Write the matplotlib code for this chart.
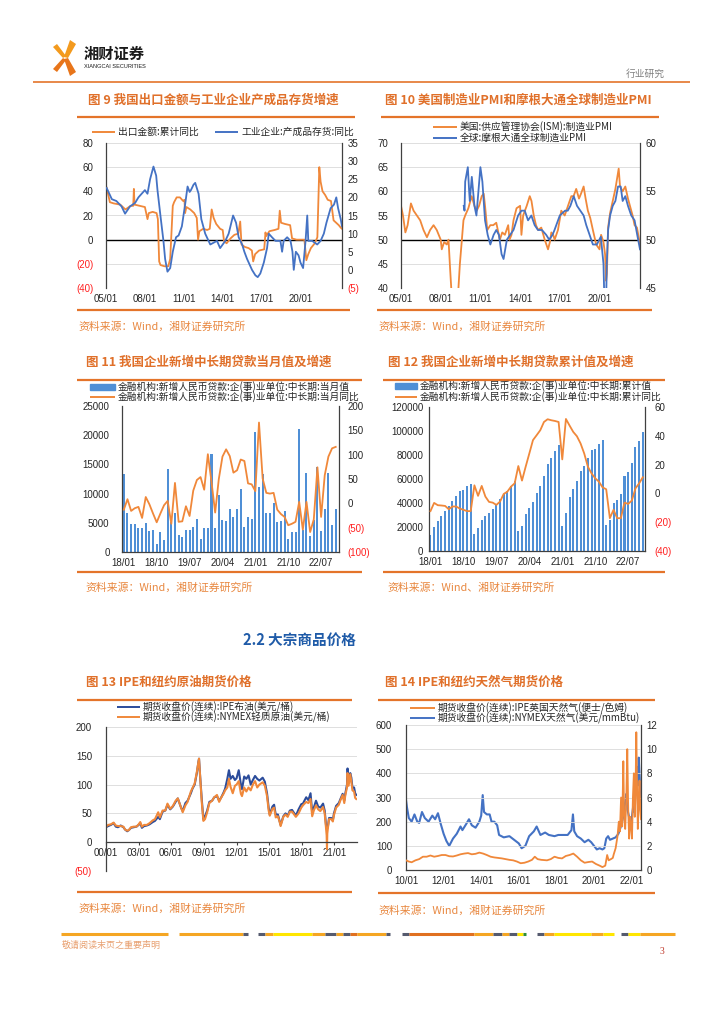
import matplotlib
matplotlib.use('Agg')
import matplotlib.pyplot as plt
from matplotlib.lines import Line2D
from matplotlib.patches import Polygon, Rectangle
import pandas as pd

plt.rcParams['font.family'] = ['Noto Sans CJK SC', 'DejaVu Sans']
plt.rcParams['axes.unicode_minus'] = False
NUM = ['Liberation Sans', 'DejaVu Sans']

W, H = 724, 1024
ORANGE = '#F0883A'
BLUE = '#4472C4'
NAVY = '#2B4C9B'
BAR = '#4F8FD6'
RULE = '#E4742A'
TITLE = '#E0702A'
RED = '#FF2020'
TXT = '#262626'
GRID = '#D9D9D9'

# ---------------- data ----------------
# fig 9: export amount cumulative yoy (left) / finished goods inventory yoy (right)
export_yoy = [(2005.05, 43), (2005.3, 31), (2005.6, 30), (2006.1, 29), (2006.5, 25), (2006.9, 28),
              (2007.1, 28), (2007.15, 42), (2007.2, 29), (2007.6, 28), (2008.0, 27), (2008.2, 17),
              (2008.3, 22), (2008.6, 23), (2008.9, 22), (2009.0, 17), (2009.1, -18), (2009.2, -21),
              (2009.5, -22), (2009.8, -22), (2009.95, -16), (2010.15, 28), (2010.25, 31), (2010.45, 35),
              (2010.7, 35), (2010.95, 32), (2011.05, 33), (2011.1, 22), (2011.2, 27), (2011.5, 25),
              (2011.8, 22), (2012.0, 18), (2012.1, 0), (2012.2, 7), (2012.5, 9), (2012.8, 8),
              (2013.0, 9), (2013.15, 25), (2013.3, 18), (2013.5, 13), (2013.8, 9), (2014.0, 8),
              (2014.1, -1), (2014.3, -3), (2014.6, 1), (2014.9, 4), (2015.2, 5), (2015.35, 15),
              (2015.45, -4), (2015.7, -6), (2016.0, -7), (2016.25, -9), (2016.35, -18), (2016.5, -12),
              (2016.8, -9), (2017.2, -8), (2017.3, 6), (2017.35, 3), (2017.6, 7), (2018.0, 8),
              (2018.3, 9), (2018.4, 24), (2018.5, 14), (2018.8, 13), (2019.2, 12), (2019.35, 1),
              (2019.7, 0), (2020.0, 0), (2020.3, 0), (2020.45, -17), (2020.6, -12), (2020.8, -7),
              (2021.1, -3), (2021.3, 2), (2021.45, 60), (2021.55, 48), (2021.7, 40), (2021.9, 37),
              (2022.1, 33), (2022.35, 32), (2022.55, 16), (2022.75, 14), (2022.95, 12), (2023.1, 10),
              (2023.2, 9)]
inventory_yoy = [(2005.05, 22.6), (2005.45, 19.5), (2005.8, 19), (2006.2, 17.5), (2006.47, 15.5),
                 (2006.85, 17.5), (2007.25, 18.5), (2007.5, 20), (2007.75, 21), (2008.0, 22),
                 (2008.2, 21), (2008.4, 25), (2008.66, 28.5), (2008.87, 26), (2008.97, 22),
                 (2009.23, 14), (2009.43, 8), (2009.56, 3), (2009.74, -0.5), (2009.95, 0.5),
                 (2010.15, 5), (2010.4, 9), (2010.6, 9.5), (2010.85, 12), (2011.1, 18),
                 (2011.29, 23), (2011.45, 21.5), (2011.55, 22), (2011.75, 23.5), (2011.88, 24),
                 (2012.14, 21), (2012.35, 14), (2012.65, 10), (2013.04, 7), (2013.3, 7.5),
                 (2013.56, 8), (2013.8, 6), (2014.2, 8), (2014.46, 10), (2014.8, 15),
                 (2015.03, 13), (2015.23, 9), (2015.5, 7), (2015.67, 5), (2015.88, 3),
                 (2016.26, 0), (2016.52, -1.5), (2016.7, -2), (2016.9, -1), (2017.17, 2),
                 (2017.42, 6), (2017.55, 10), (2017.8, 9), (2018.07, 8), (2018.45, 8),
                 (2018.58, 5), (2018.7, 8), (2018.97, 9), (2019.23, 8), (2019.38, 5),
                 (2019.48, 0), (2019.64, 5), (2019.85, 4), (2020.0, 2), (2020.2, 0.5),
                 (2020.39, 8), (2020.52, 15), (2020.6, 8), (2020.9, 8), (2021.29, 7),
                 (2021.55, 8), (2021.8, 10), (2022.0, 13), (2022.32, 17), (2022.58, 18),
                 (2022.76, 20), (2022.9, 17), (2023.1, 14), (2023.2, 12)]
years_9 = [2005, 2008, 2011, 2014, 2017, 2020]

# fig 10: ISM manufacturing PMI (left) / JPM global manufacturing PMI (right)
ism_pmi = [(2005.0, 57), (2005.15, 55), (2005.33, 51.5), (2005.5, 53), (2005.75, 57.5), (2005.95, 56),
           (2006.2, 55), (2006.45, 54), (2006.7, 52), (2006.96, 50.5), (2007.2, 52), (2007.46, 53),
           (2007.7, 52), (2008.0, 50), (2008.08, 48), (2008.26, 49.5), (2008.46, 49), (2008.59, 50),
           (2008.71, 44), (2008.84, 38), (2008.95, 34), (2009.15, 35), (2009.34, 40), (2009.45, 45),
           (2009.6, 50), (2009.72, 54), (2009.85, 55), (2010.09, 56.5), (2010.34, 59), (2010.55, 57),
           (2010.72, 56), (2010.9, 57), (2011.1, 59), (2011.25, 59.5), (2011.35, 57), (2011.52, 52),
           (2011.75, 53), (2011.97, 53), (2012.2, 53.5), (2012.47, 50), (2012.65, 51.5), (2012.85, 51),
           (2013.1, 53), (2013.2, 50), (2013.35, 51), (2013.5, 54), (2013.73, 56.5), (2014.0, 57),
           (2014.1, 51), (2014.23, 55), (2014.5, 57), (2014.73, 59), (2014.86, 58), (2015.03, 55),
           (2015.2, 53), (2015.36, 52), (2015.6, 52.5), (2015.86, 50), (2016.11, 48), (2016.25, 49.5),
           (2016.36, 51.5), (2016.5, 51), (2016.61, 50), (2016.86, 52), (2017.11, 56), (2017.37, 55),
           (2017.62, 57), (2017.87, 59), (2018.04, 59), (2018.24, 60.5), (2018.45, 58.5), (2018.6, 59.5),
           (2018.8, 61), (2018.95, 58.5), (2019.12, 56), (2019.3, 54.5), (2019.5, 52), (2019.75, 49),
           (2020.0, 48), (2020.12, 51), (2020.3, 49.5), (2020.42, 47), (2020.5, 41.5), (2020.56, 43),
           (2020.65, 52.5), (2020.8, 55.5), (2021.0, 58), (2021.2, 60.5), (2021.45, 64.7), (2021.55, 61),
           (2021.75, 60), (2021.95, 61), (2022.15, 58.5), (2022.3, 57), (2022.5, 55), (2022.65, 53),
           (2022.83, 52.5), (2023.06, 49)]
jpm_pmi = [(2009.74, 53.5), (2009.8, 53), (2009.85, 56), (2010.05, 57.5), (2010.15, 55), (2010.2, 54),
           (2010.35, 56.5), (2010.55, 53.5), (2010.7, 52.5), (2010.85, 55), (2011.0, 57.5), (2011.15, 56),
           (2011.35, 52), (2011.55, 50.5), (2011.75, 49.5), (2012.0, 50.5), (2012.2, 51), (2012.4, 50.5),
           (2012.6, 48.5), (2012.75, 48), (2013.0, 50), (2013.25, 50.5), (2013.5, 51), (2013.85, 52.5),
           (2014.1, 53), (2014.35, 53), (2014.6, 52), (2014.85, 52.5), (2015.1, 51.5), (2015.35, 51),
           (2015.65, 51), (2015.97, 50.5), (2016.2, 50), (2016.45, 50.5), (2016.6, 51), (2017.0, 52.5),
           (2017.4, 53), (2017.6, 53), (2017.8, 53.5), (2018.05, 54.5), (2018.3, 53.5), (2018.55, 53),
           (2018.8, 52.5), (2019.0, 51.5), (2019.25, 50.5), (2019.5, 49.5), (2019.8, 49.5), (2020.1, 50.3),
           (2020.3, 47.5), (2020.4, 42), (2020.45, 39.5), (2020.55, 47.5), (2020.65, 51), (2020.8, 52.5),
           (2021.0, 53.5), (2021.2, 54), (2021.4, 55.5), (2021.6, 55.5), (2021.75, 54), (2021.95, 54.5),
           (2022.15, 53.5), (2022.4, 52.5), (2022.65, 52), (2022.85, 50.5), (2023.06, 49)]
years_10 = [2005, 2008, 2011, 2014, 2017, 2020]

# fig 11 / 12: new mid/long-term corporate loans, 2018-01 .. 2022-11
loan_months = pd.period_range('2018-01', periods=59, freq='M')
loan_month_val = [13330, 6690, 4750, 4750, 4060, 4060, 4920, 3550, 3830, 1430,
                  3370, 2060, 14130, 5200, 6690, 2860, 2630, 3780, 3720, 4350,
                  5720, 2290, 4180, 4060, 16700, 4180, 9720, 5550, 5380, 7440,
                  6010, 7320, 10750, 4230, 6010, 5600, 20530, 11100, 13380, 6690,
                  6690, 8460, 5090, 5260, 6980, 2290, 3490, 3490, 21050, 3830,
                  13500, 2750, 5550, 14530, 3550, 7380, 13500, 4690, 7440]
loan_month_yoy = [-13, 8.5, -15.6, -10, -7.3, -30, 13, -2, -21, -39,
                  -21, -4, 5, -42, 42, -38, -37, -6, -26, 26,
                  48, 54, 28, 101, 44, -19, 50, 96, 111, 97,
                  63, 68, 90, 87, 41, 39, 25, 166, 51, 21.5,
                  20, 21.5, -13, -22, -28, -45, -42, -38, 3, -54,
                  3, -59, -33, 74, -28, 58, 96, 113, 116]
loan_cum_val = [13550, 19900, 24900, 29300, 33200, 37600, 42000, 45900, 50000, 51200,
                53900, 55900, 14400, 19100, 25700, 29300, 31500, 34800, 39500, 43100,
                47800, 50000, 54200, 58300, 16600, 21000, 31000, 35900, 40900, 48100,
                54500, 62200, 72700, 77100, 83200, 88200, 20500, 31500, 45300, 51400,
                58300, 66400, 71100, 77100, 83800, 85400, 88800, 92400, 21300, 26000,
                39800, 42300, 47800, 62500, 65500, 73000, 86800, 91500, 99300]
loan_cum_yoy = [-12.3, -6.6, -8.2, -8.4, -8.7, -11, -9.1, -9.1, -10.5, -11.4,
                -12.3, -12.3, 5.6, -1.7, 5.2, -2.2, -5.9, -6.4, -8, -5.7,
                -0.4, 1.2, 4.7, 7, 19, 8.9, 18.5, 27.7, 37, 40.4,
                43.9, 49.6, 51.5, 50.8, 50.3, 49.6, 23.6, 51.7, 47.1, 42.7,
                39.7, 34.7, 27.7, 18.5, 13.9, 10.5, 8.2, 4.2, 2.9, -17.2,
                -11.4, -17.2, -17.2, -6.4, -7.3, -5, 3.5, 7, 11.2]

# fig 13: crude futures, USD/bbl
brent = [(2000.0, 26), (2000.2, 28), (2000.45, 30), (2000.7, 33), (2000.9, 27), (2001.1, 26),
         (2001.35, 29), (2001.6, 26), (2001.75, 22), (2001.95, 19), (2002.1, 21), (2002.3, 25),
         (2002.55, 26), (2002.8, 27), (2003.0, 30), (2003.15, 33), (2003.3, 25), (2003.5, 28),
         (2003.75, 29), (2004.0, 31), (2004.3, 35), (2004.5, 37), (2004.8, 44), (2004.95, 40),
         (2005.2, 53), (2005.45, 55), (2005.65, 65), (2005.9, 57), (2006.15, 62), (2006.4, 70),
         (2006.6, 76), (2006.9, 60), (2007.05, 54), (2007.3, 68), (2007.5, 72), (2007.8, 85),
         (2007.95, 93), (2008.15, 100), (2008.35, 120), (2008.5, 140), (2008.55, 145), (2008.65, 115),
         (2008.8, 75), (2008.95, 40), (2009.1, 45), (2009.3, 55), (2009.5, 70), (2009.75, 72),
         (2009.95, 78), (2010.2, 80), (2010.4, 72), (2010.6, 78), (2010.8, 86), (2010.95, 93),
         (2011.15, 110), (2011.3, 125), (2011.45, 110), (2011.65, 115), (2011.85, 108), (2012.0, 111),
         (2012.2, 125), (2012.4, 100), (2012.5, 92), (2012.7, 114), (2012.9, 110), (2013.1, 116),
         (2013.3, 100), (2013.5, 108), (2013.7, 115), (2013.9, 110), (2014.1, 107), (2014.4, 112),
         (2014.6, 105), (2014.8, 85), (2014.95, 60), (2015.05, 48), (2015.3, 62), (2015.45, 65),
         (2015.6, 48), (2015.8, 48), (2015.95, 37), (2016.05, 30), (2016.3, 45), (2016.5, 50),
         (2016.7, 46), (2016.9, 55), (2017.1, 56), (2017.45, 46), (2017.7, 57), (2017.95, 66),
         (2018.1, 67), (2018.4, 78), (2018.6, 73), (2018.8, 85), (2018.95, 52), (2019.1, 60),
         (2019.3, 72), (2019.5, 62), (2019.7, 60), (2019.95, 67), (2020.1, 55), (2020.22, 30),
         (2020.3, 22), (2020.4, 28), (2020.5, 42), (2020.7, 42), (2020.85, 38), (2020.95, 50),
         (2021.15, 63), (2021.4, 68), (2021.55, 75), (2021.75, 84), (2021.9, 72), (2022.0, 85),
         (2022.15, 100), (2022.2, 128), (2022.3, 105), (2022.45, 120), (2022.55, 112), (2022.65, 95),
         (2022.8, 95), (2022.9, 85), (2023.0, 82)]
wti = [(2000.0, 27), (2000.2, 30), (2000.45, 31), (2000.7, 34), (2000.9, 29), (2001.1, 28),
       (2001.35, 28), (2001.6, 27), (2001.75, 22), (2001.95, 20), (2002.1, 21), (2002.3, 26),
       (2002.55, 27), (2002.8, 27), (2003.0, 31), (2003.15, 35), (2003.3, 27), (2003.5, 30),
       (2003.75, 30), (2004.0, 33), (2004.3, 38), (2004.5, 40), (2004.8, 52), (2004.95, 43),
       (2005.2, 55), (2005.45, 55), (2005.65, 67), (2005.9, 58), (2006.15, 63), (2006.4, 72),
       (2006.6, 76), (2006.9, 60), (2007.05, 52), (2007.3, 64), (2007.5, 70), (2007.8, 88),
       (2007.95, 94), (2008.15, 102), (2008.35, 122), (2008.5, 140), (2008.55, 145), (2008.65, 115),
       (2008.8, 70), (2008.95, 37), (2009.1, 40), (2009.3, 52), (2009.5, 68), (2009.75, 72),
       (2009.95, 78), (2010.2, 82), (2010.4, 70), (2010.6, 78), (2010.8, 84), (2010.95, 90),
       (2011.15, 95), (2011.3, 110), (2011.45, 96), (2011.65, 85), (2011.85, 98), (2012.0, 100),
       (2012.2, 106), (2012.4, 84), (2012.5, 80), (2012.7, 95), (2012.9, 88), (2013.1, 95),
       (2013.3, 90), (2013.5, 100), (2013.7, 106), (2013.9, 95), (2014.1, 100), (2014.4, 104),
       (2014.6, 98), (2014.8, 80), (2014.95, 55), (2015.05, 46), (2015.3, 58), (2015.45, 60),
       (2015.6, 43), (2015.8, 45), (2015.95, 36), (2016.05, 28), (2016.3, 44), (2016.5, 48),
       (2016.7, 44), (2016.9, 53), (2017.1, 53), (2017.45, 44), (2017.7, 50), (2017.95, 60),
       (2018.1, 64), (2018.4, 70), (2018.6, 68), (2018.8, 75), (2018.95, 45), (2019.1, 55),
       (2019.3, 64), (2019.5, 57), (2019.7, 54), (2019.95, 61), (2020.1, 50), (2020.22, 25),
       (2020.28, 12), (2020.31, -12), (2020.34, 15), (2020.4, 25), (2020.5, 40), (2020.7, 40),
       (2020.85, 36), (2020.95, 47), (2021.15, 60), (2021.4, 65), (2021.55, 73), (2021.75, 82),
       (2021.9, 68), (2022.0, 82), (2022.15, 95), (2022.2, 120), (2022.3, 98), (2022.45, 118),
       (2022.55, 105), (2022.65, 90), (2022.8, 88), (2022.9, 77), (2023.0, 75)]
years_13 = [2000, 2003, 2006, 2009, 2012, 2015, 2018, 2021]

# fig 14: natural gas futures
nbp_gas = [(2010.0, 40), (2010.15, 35), (2010.3, 32), (2010.5, 40), (2010.7, 45), (2010.9, 55),
           (2011.1, 55), (2011.3, 60), (2011.5, 55), (2011.7, 58), (2011.9, 62), (2012.1, 62),
           (2012.3, 57), (2012.5, 56), (2012.7, 60), (2012.9, 65), (2013.1, 68), (2013.3, 70),
           (2013.5, 65), (2013.7, 67), (2013.9, 72), (2014.1, 68), (2014.3, 62), (2014.5, 55),
           (2014.7, 52), (2014.9, 50), (2015.1, 48), (2015.3, 45), (2015.5, 42), (2015.7, 40),
           (2015.9, 35), (2016.1, 28), (2016.3, 30), (2016.5, 35), (2016.7, 42), (2016.85, 55),
           (2017.0, 45), (2017.2, 42), (2017.5, 40), (2017.7, 45), (2017.9, 55), (2018.1, 50),
           (2018.3, 48), (2018.5, 58), (2018.7, 62), (2018.9, 68), (2019.1, 55), (2019.3, 40),
           (2019.5, 30), (2019.7, 33), (2019.9, 35), (2020.1, 25), (2020.3, 18), (2020.45, 12),
           (2020.6, 18), (2020.7, 62), (2020.78, 40), (2020.9, 45), (2021.0, 50), (2021.05, 65),
           (2021.15, 90), (2021.25, 140), (2021.32, 200), (2021.38, 160), (2021.44, 300), (2021.5, 180),
           (2021.56, 450), (2021.6, 230), (2021.66, 170), (2021.72, 300), (2021.77, 500), (2021.82, 250),
           (2021.87, 130), (2021.92, 220), (2021.97, 180), (2022.02, 130), (2022.07, 300), (2022.12, 400),
           (2022.17, 220), (2022.21, 330), (2022.25, 570), (2022.29, 350), (2022.33, 170), (2022.37, 260),
           (2022.42, 370), (2022.46, 250), (2022.5, 210)]
nymex_gas = [(2010.0, 5.8), (2010.05, 5.2), (2010.15, 4.3), (2010.3, 4.0), (2010.45, 4.6), (2010.6, 4.0),
             (2010.7, 3.9), (2010.85, 4.8), (2011.0, 4.3), (2011.2, 4.0), (2011.4, 4.5), (2011.55, 4.2),
             (2011.7, 4.7), (2011.85, 3.8), (2012.0, 3.0), (2012.15, 2.4), (2012.3, 2.0), (2012.5, 2.6),
             (2012.7, 3.0), (2012.9, 3.6), (2013.0, 3.3), (2013.2, 3.8), (2013.35, 4.2), (2013.5, 3.7),
             (2013.7, 3.5), (2013.9, 4.0), (2014.0, 4.5), (2014.08, 6.2), (2014.15, 4.8), (2014.3, 4.6),
             (2014.45, 4.6), (2014.55, 4.0), (2014.7, 4.0), (2014.85, 3.7), (2014.95, 2.9), (2015.2, 2.7),
             (2015.5, 2.8), (2015.75, 2.5), (2016.0, 2.2), (2016.15, 1.8), (2016.35, 2.0), (2016.55, 2.8),
             (2016.8, 3.2), (2016.95, 3.6), (2017.15, 2.9), (2017.4, 3.1), (2017.6, 2.9), (2017.9, 2.8),
             (2018.1, 2.9), (2018.35, 2.9), (2018.6, 2.9), (2018.8, 3.3), (2018.88, 4.6), (2018.95, 3.2),
             (2019.1, 2.8), (2019.3, 2.6), (2019.5, 2.3), (2019.7, 2.5), (2019.85, 2.3), (2020.0, 2.0),
             (2020.15, 1.7), (2020.3, 1.8), (2020.45, 1.7), (2020.55, 1.8), (2020.65, 2.6), (2020.75, 2.8),
             (2020.85, 2.5), (2021.0, 2.6), (2021.15, 2.7), (2021.3, 3.0), (2021.45, 3.7), (2021.55, 4.4),
             (2021.65, 5.5), (2021.72, 6.3), (2021.78, 5.0), (2021.85, 4.5), (2021.92, 3.8), (2022.0, 4.2),
             (2022.08, 5.2), (2022.15, 4.8), (2022.22, 7.0), (2022.28, 8.5), (2022.33, 7.0), (2022.38, 9.3),
             (2022.42, 8.0), (2022.46, 6.5), (2022.5, 5.5)]
years_14 = [2010, 2012, 2014, 2016, 2018, 2020, 2022]

# ---------------- helpers ----------------
fig = plt.figure(figsize=(W / 100, H / 100), dpi=100)


def fx(x):
    return x / W


def fy(y):
    return 1 - y / H


def rule(x0, x1, y, color=RULE, lw=1.6):
    fig.add_artist(Line2D([fx(x0), fx(x1)], [fy(y), fy(y)], color=color, lw=lw,
                          solid_capstyle='butt'))


def text(x, y, s, **kw):
    kw.setdefault('va', 'center')
    fig.text(fx(x), fy(y), s, **kw)


def panel(l, t, r, b):
    return fig.add_axes([fx(l), fy(b), (r - l) / W, (b - t) / H])


def set_y(ax, lo, hi, step, pad=3):
    vals = list(range(lo, hi + 1, step))
    ax.set_ylim(lo, hi)
    ax.set_yticks(vals)
    labs = ax.set_yticklabels([f'({-v})' if v < 0 else str(v) for v in vals],
                              family=NUM, fontsize=7)
    for v, lab in zip(vals, labs):
        lab.set_color(RED if v < 0 else TXT)
    ax.tick_params(axis='y', length=0, pad=pad)


def set_x(ax, pos, labels, length=0, pad=4):
    ax.set_xticks(pos)
    ax.set_xticklabels(labels, family=NUM, fontsize=7, color=TXT)
    ax.tick_params(axis='x', length=length, pad=pad, color='#404040')


def spines(ax, left=False, right=False, bottom=False):
    for s, on in (('left', left), ('right', right), ('bottom', bottom), ('top', False)):
        ax.spines[s].set_visible(on)
        ax.spines[s].set_color('#404040')
        ax.spines[s].set_linewidth(0.9)


def legend_line(x0, x1, y, color, label):
    rule(x0, x1, y, color, 1.4)
    text(x1 + 3, y, label, fontsize=7, color=TXT)


def legend_bar(x0, x1, y, color, label):
    fig.add_artist(Rectangle((fx(x0), fy(y + 3)), (x1 - x0) / W, 6 / H, color=color))
    text(x1 + 3, y, label, fontsize=7, color=TXT)


def unzip(pairs):
    return [p[0] for p in pairs], [p[1] for p in pairs]


def fig_title(x, y, s):
    text(x, y, s, fontsize=9, fontweight='bold', color=TITLE)


def source(x, y, s='资料来源：Wind，湘财证券研究所'):
    text(x, y, s, fontsize=7.8, color='#E8873F')


# ---------------- header / footer ----------------
logo = [[(64, 57), (70, 40), (76, 44), (68, 58)],
        [(64, 59), (70, 76), (76, 72), (68, 58)],
        [(63, 58), (53, 47), (57, 44), (66, 56)],
        [(63, 58), (53, 69), (57, 72), (66, 60)]]
for i, pts in enumerate(logo):
    fig.add_artist(Polygon([(fx(a), fy(b)) for a, b in pts], closed=True,
                           color='#F39A1E' if i % 2 == 0 else '#E8751A', lw=0))
text(84, 54, '湘财证券', fontsize=11, fontweight='bold', color='#1A1A1A')
text(84, 66, 'XIANGCAI SECURITIES', fontsize=4.1, family=NUM, color='#1A1A1A')
text(665, 74, '行业研究', fontsize=7, color='#808080', ha='right')
rule(33, 690, 82, '#E4742A', 1.2)

foot = [(61, 168, '#F5A623'), (179, 243, '#F5A623'), (243, 248, '#555A6E'),
        (258, 265, '#555A6E'), (265, 273, '#F5A623'), (273, 312, '#FFE600'), (312, 325, '#F5A623'),
        (325, 336, '#555A6E'), (336, 343, '#F5A623'), (343, 350, '#555A6E'), (350, 357, '#E07020'),
        (357, 386, '#F5A623'), (386, 390, '#555A6E'), (402, 409, '#555A6E'), (409, 474, '#E07020'),
        (474, 493, '#F5A623'), (493, 502, '#555A6E'), (502, 509, '#F5A623'), (509, 517, '#555A6E'),
        (517, 523, '#FFE600'), (523, 526, '#2E8B3A'), (537, 544, '#555A6E'), (544, 554, '#F5A623'),
        (554, 591, '#FFE600'), (591, 603, '#F5A623'), (603, 614, '#FFE600'), (621, 628, '#555A6E'),
        (628, 640, '#FFE600'), (640, 675, '#F5A623')]
for x0, x1, c in foot:
    rule(x0, x1, 934, c, 2.2)
text(62, 945, '敬请阅读末页之重要声明', fontsize=6.5, color='#E8A070')
text(660, 951, '3', fontsize=7, color='#C0392B', family=['Liberation Serif', 'DejaVu Serif'])

# ---------------- fig 9 ----------------
fig_title(88, 100, '图 9 我国出口金额与工业企业产成品存货增速')
rule(77, 355, 117)
legend_line(92, 115, 132, ORANGE, '出口金额:累计同比')
legend_line(215, 238, 132, BLUE, '工业企业:产成品存货:同比')
ax = panel(106, 143, 342, 288)
t, v = unzip(export_yoy)
ax.plot(t, v, color=ORANGE, lw=1.3)
ax.set_xlim(2005, 2023.2)
set_y(ax, -40, 80, 20, pad=9)
ax.grid(axis='y', color=GRID, lw=0.6)
ax.set_axisbelow(True)
ax.axhline(0, color='black', lw=1, zorder=1)
set_x(ax, years_9, [f'{y % 100:02d}/01' for y in years_9])
spines(ax, left=True)
ax2 = ax.twinx()
t, v = unzip(inventory_yoy)
ax2.plot(t, v, color=BLUE, lw=1.3)
set_y(ax2, -5, 35, 5, pad=4)
spines(ax2, right=True)
rule(77, 350, 310)
source(78, 327)

# ---------------- fig 10 ----------------
fig_title(385, 100, '图 10 美国制造业PMI和摩根大通全球制造业PMI')
rule(381, 659, 117)
legend_line(433, 457, 127, ORANGE, '美国:供应管理协会(ISM):制造业PMI')
legend_line(433, 457, 138, BLUE, '全球:摩根大通全球制造业PMI')
ax = panel(401, 143, 640, 288)
t, v = unzip(ism_pmi)
ax.plot(t, v, color=ORANGE, lw=1.3)
ax.set_xlim(2005, 2023.06)
set_y(ax, 40, 70, 5, pad=9)
ax.grid(axis='y', color=GRID, lw=0.6)
ax.set_axisbelow(True)
ax.axhline(50, color='black', lw=1, zorder=1)
set_x(ax, years_10, [f'{y % 100:02d}/01' for y in years_10])
spines(ax, left=True)
ax2 = ax.twinx()
t, v = unzip(jpm_pmi)
ax2.plot(t, v, color=BLUE, lw=1.3)
set_y(ax2, 45, 60, 5, pad=4)
spines(ax2, right=True)
rule(377, 652, 310)
source(378, 327)

# ---------------- fig 11 ----------------
idx = list(range(len(loan_months)))
tick_idx = idx[::9]
tick_lab = [loan_months[i].strftime('%y/%m') for i in tick_idx]

fig_title(86, 362, '图 11 我国企业新增中长期贷款当月值及增速')
rule(77, 362, 380)
legend_bar(90, 115, 387, BAR, '金融机构:新增人民币贷款:企(事)业单位:中长期:当月值')
legend_line(90, 115, 397, ORANGE, '金融机构:新增人民币贷款:企(事)业单位:中长期:当月同比')
ax = panel(122, 406, 339, 552)
ax.bar(idx, loan_month_val, width=0.55, color=BAR)
ax.set_xlim(-0.5, 58.9)
set_y(ax, 0, 25000, 5000, pad=9)
set_x(ax, tick_idx, tick_lab)
spines(ax, left=True, bottom=True)
ax2 = ax.twinx()
ax2.plot(idx, loan_month_yoy, color=ORANGE, lw=1.3)
set_y(ax2, -100, 200, 50, pad=6)
spines(ax2, right=True)
rule(77, 362, 572)
source(85, 588)

# ---------------- fig 12 ----------------
fig_title(388, 362, '图 12 我国企业新增中长期贷款累计值及增速')
rule(383, 665, 380)
legend_bar(395, 417, 386, BAR, '金融机构:新增人民币贷款:企(事)业单位:中长期:累计值')
legend_line(395, 417, 397, ORANGE, '金融机构:新增人民币贷款:企(事)业单位:中长期:累计同比')
ax = panel(429, 407, 645, 551)
ax.bar(idx, loan_cum_val, width=0.55, color=BAR)
ax.set_xlim(-0.4, 58.6)
set_y(ax, 0, 120000, 20000, pad=4)
set_x(ax, tick_idx, tick_lab)
spines(ax, left=True, bottom=True)
ax2 = ax.twinx()
ax2.plot(idx, loan_cum_yoy, color=ORANGE, lw=1.3)
set_y(ax2, -40, 60, 20, pad=7)
spines(ax2, right=True)
rule(383, 665, 572)
source(387, 588, '资料来源：Wind、湘财证券研究所')

# ---------------- section heading ----------------
text(243, 640, '2.2 大宗商品价格', fontsize=10.5, fontweight='bold', color='#1F5BA8')

# ---------------- fig 13 ----------------
fig_title(86, 682, '图 13 IPE和纽约原油期货价格')
rule(77, 352, 700)
legend_line(117, 140, 707, NAVY, '期货收盘价(连续):IPE布油(美元/桶)')
legend_line(117, 140, 717, ORANGE, '期货收盘价(连续):NYMEX轻质原油(美元/桶)')
ax = panel(106, 727, 357, 871)
spines(ax, left=True, bottom=True)
ax.spines['bottom'].set_position(('data', 0))
t, v = unzip(brent)
ax.plot(t, v, color=NAVY, lw=1.5)
t, v = unzip(wti)
ax.plot(t, v, color=ORANGE, lw=1.5)
ax.set_xlim(2000, 2023.07)
set_y(ax, -50, 200, 50, pad=10)
ax.grid(axis='y', color=GRID, lw=0.6)
ax.set_axisbelow(True)
set_x(ax, years_13, [f'{y % 100:02d}/01' for y in years_13], length=2, pad=2)
rule(77, 352, 892)
source(78, 909)

# ---------------- fig 14 ----------------
fig_title(385, 682, '图 14 IPE和纽约天然气期货价格')
rule(378, 655, 700)
legend_line(410, 435, 708, ORANGE, '期货收盘价(连续):IPE英国天然气(便士/色姆)')
legend_line(410, 435, 718, BLUE, '期货收盘价(连续):NYMEX天然气(美元/mmBtu)')
ax = panel(406, 725, 641, 870)
t, v = unzip(nbp_gas)
ax.plot(t, v, color=ORANGE, lw=1.3, zorder=3)
ax.set_xlim(2010, 2022.5)
set_y(ax, 0, 600, 100, pad=10)
ax.grid(axis='y', color=GRID, lw=0.6)
ax.set_axisbelow(True)
set_x(ax, years_14, [f'{y % 100:02d}/01' for y in years_14])
spines(ax, left=True, bottom=True)
ax2 = ax.twinx()
t, v = unzip(nymex_gas)
ax2.plot(t, v, color=BLUE, lw=1.5)
set_y(ax2, 0, 12, 2, pad=4)
spines(ax2, right=True)
ax.set_zorder(ax2.get_zorder() + 1)
ax.patch.set_visible(False)
rule(378, 655, 893)
source(378, 911)

fig.savefig('out.png', dpi=100)
